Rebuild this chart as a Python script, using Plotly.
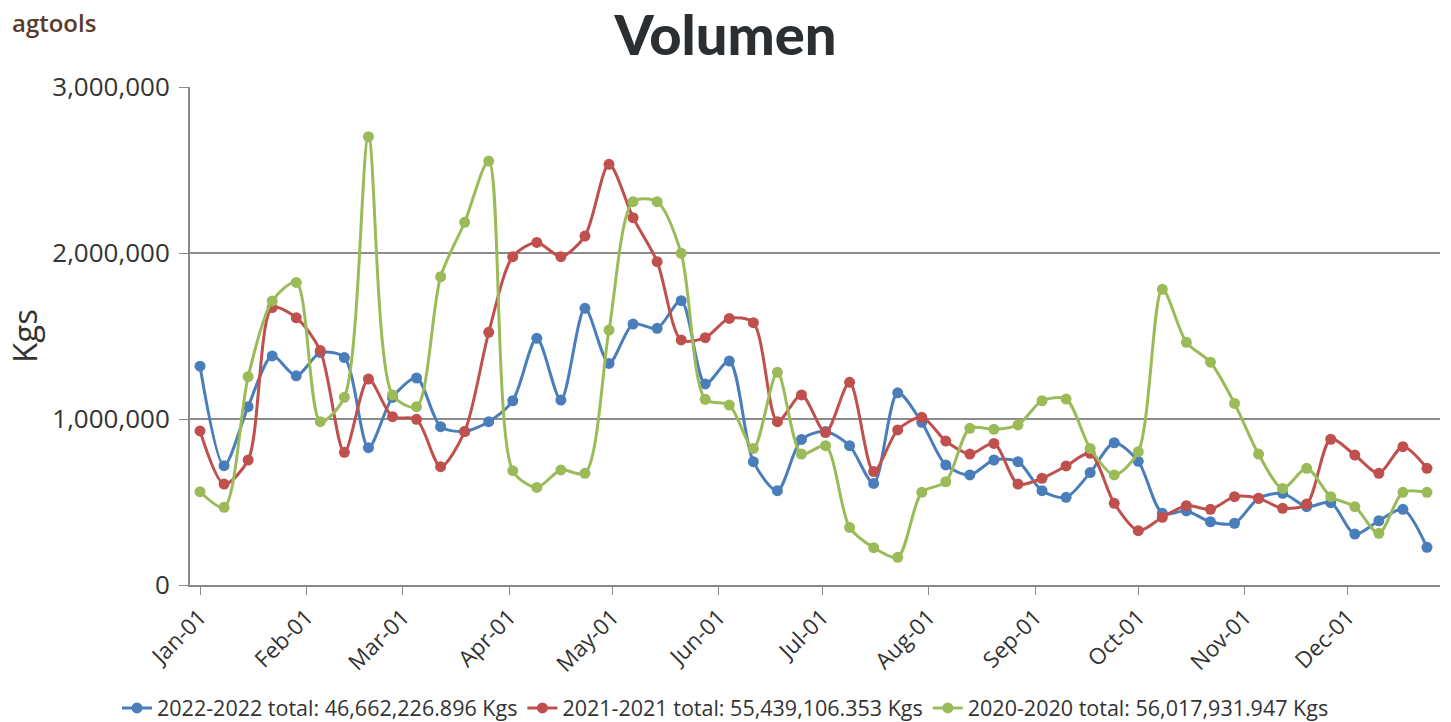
import plotly.graph_objects as go

# Weekly categories (common axis year, overlaid seasons)
WEEKS = [
    "2022-01-01", "2022-01-08", "2022-01-15", "2022-01-22", "2022-01-29",
    "2022-02-05", "2022-02-12", "2022-02-19", "2022-02-26",
    "2022-03-05", "2022-03-12", "2022-03-19", "2022-03-26",
    "2022-04-02", "2022-04-09", "2022-04-16", "2022-04-23", "2022-04-30",
    "2022-05-07", "2022-05-14", "2022-05-21", "2022-05-28",
    "2022-06-04", "2022-06-11", "2022-06-18", "2022-06-25",
    "2022-07-02", "2022-07-09", "2022-07-16", "2022-07-23", "2022-07-30",
    "2022-08-06", "2022-08-13", "2022-08-20", "2022-08-27",
    "2022-09-03", "2022-09-10", "2022-09-17", "2022-09-24",
    "2022-10-01", "2022-10-08", "2022-10-15", "2022-10-22", "2022-10-29",
    "2022-11-05", "2022-11-12", "2022-11-19", "2022-11-26",
    "2022-12-03", "2022-12-10", "2022-12-17", "2022-12-24",
]

S2022 = [
    1318000, 719000, 1074000, 1380000, 1260000, 1400000, 1370000, 827000, 1130000, 1247000,
    954000, 925000, 984000, 1110000, 1486000, 1114000, 1667000, 1335000, 1572000, 1546000,
    1713000, 1211000, 1349000, 743000, 568000, 877000, 925000, 839000, 612000, 1158000,
    980000, 723000, 663000, 753000, 743000, 568000, 528000, 677000, 857000, 745000,
    432000, 446000, 381000, 372000, 522000, 552000, 472000, 496000, 307000, 387000,
    456000, 227000,
]

S2021 = [
    928000, 608000, 753000, 1671000, 1610000, 1412000, 799000, 1241000, 1014000, 998000,
    713000, 924000, 1522000, 1978000, 2064000, 1978000, 2102000, 2534000, 2213000, 1948000,
    1476000, 1490000, 1606000, 1580000, 984000, 1145000, 918000, 1221000, 683000, 934000,
    1010000, 867000, 789000, 853000, 608000, 643000, 717000, 793000, 492000, 327000,
    408000, 478000, 456000, 532000, 522000, 462000, 488000, 878000, 783000, 673000,
    833000, 703000,
]

S2020 = [
    562000, 468000, 1255000, 1711000, 1823000, 984000, 1131000, 2701000, 1145000, 1074000,
    1857000, 2185000, 2554000, 689000, 588000, 693000, 673000, 1536000, 2309000, 2309000,
    1998000, 1119000, 1084000, 823000, 1281000, 789000, 839000, 347000, 225000, 167000,
    558000, 622000, 944000, 938000, 964000, 1110000, 1120000, 823000, 663000, 803000,
    1781000, 1462000, 1342000, 1094000, 789000, 582000, 703000, 532000, 472000, 311000,
    558000, 558000,
]

NAMES = [
    "2022-2022 total: 46,662,226.896 Kgs",
    "2021-2021 total: 55,439,106.353 Kgs",
    "2020-2020 total: 56,017,931.947 Kgs",
]
COLORS = ["#4a7ebb", "#c0504d", "#9bbb59"]

MONTH_TICKS = ["2022-%02d-01" % m for m in range(1, 13)]
MONTH_LABELS = ["Jan-01", "Feb-01", "Mar-01", "Apr-01", "May-01", "Jun-01",
                "Jul-01", "Aug-01", "Sep-01", "Oct-01", "Nov-01", "Dec-01"]
Y_TICKS = [0, 1000000, 2000000, 3000000]
Y_LABELS = ["0", "1,000,000", "2,000,000", "3,000,000"]

FONT = "Open Sans, Noto Sans, DejaVu Sans, sans-serif"

fig = go.Figure()
for series, name, color in zip([S2022, S2021, S2020], NAMES, COLORS):
    fig.add_trace(go.Scatter(
        x=WEEKS, y=series, name=name, mode="lines+markers",
        line=dict(color=color, width=3, shape="spline", smoothing=0.8),
        marker=dict(color=color, size=11),
    ))

W, H = 1451, 722
ML, MR, MT, MB = 190, 11, 87, 137
PW, PH = W - ML - MR, H - MT - MB

fig.update_layout(
    width=W, height=H,
    paper_bgcolor="white", plot_bgcolor="white",
    margin=dict(l=ML, r=MR, t=MT, b=MB, autoexpand=False),
    title=dict(
        text="Volumen",
        x=0.5, xref="container", xanchor="center",
        y=1 - 35 / H, yref="container", yanchor="middle",
        font=dict(family="Lato, Roboto, sans-serif", weight=900,
                  size=56, color="#2b2f32"),
    ),
    showlegend=True,
    legend=dict(
        orientation="h", xref="container", x=0.5, xanchor="center",
        yref="container", y=14 / H, yanchor="middle",
        font=dict(family=FONT, size=21.5, color="#333333"),
        itemwidth=30, tracegroupgap=0,
    ),
    font=dict(family=FONT, color="#333333"),
    annotations=[dict(
        text="agtools", xref="paper", yref="paper",
        x=(10 - ML) / PW, y=(PH + MT - 23) / PH, xanchor="left", yanchor="middle",
        showarrow=False, font=dict(family=FONT, size=24, color="#5b3a2a", weight=600),
    )],
)

fig.update_xaxes(
    type="date",
    range=["2021-12-29 02:00", "2022-12-27 19:00"],
    tickvals=MONTH_TICKS, ticktext=MONTH_LABELS, tickangle=-45,
    tickfont=dict(size=22.5, color="#333333"),
    ticks="outside", ticklen=8, tickcolor="#888888",
    showline=True, linecolor="#888888", linewidth=2,
    showgrid=False, zeroline=False,
)
fig.update_yaxes(
    range=[0, 3000000],
    tickvals=Y_TICKS, ticktext=Y_LABELS,
    tickfont=dict(size=26, color="#333333"),
    ticks="outside", ticklen=9, tickcolor="#888888",
    ticklabelstandoff=4,
    showline=True, linecolor="#888888", linewidth=2,
    showgrid=True, gridcolor="#8c8c8c", gridwidth=1.5,
    zeroline=False,
    title=dict(text="Kgs", font=dict(size=33, color="#333333"), standoff=5),
)

# remove the default page margin so the figure fills the window exactly
fig.write_html("out.html", config={"displayModeBar": False},
               post_script="document.body.style.margin='0';")
